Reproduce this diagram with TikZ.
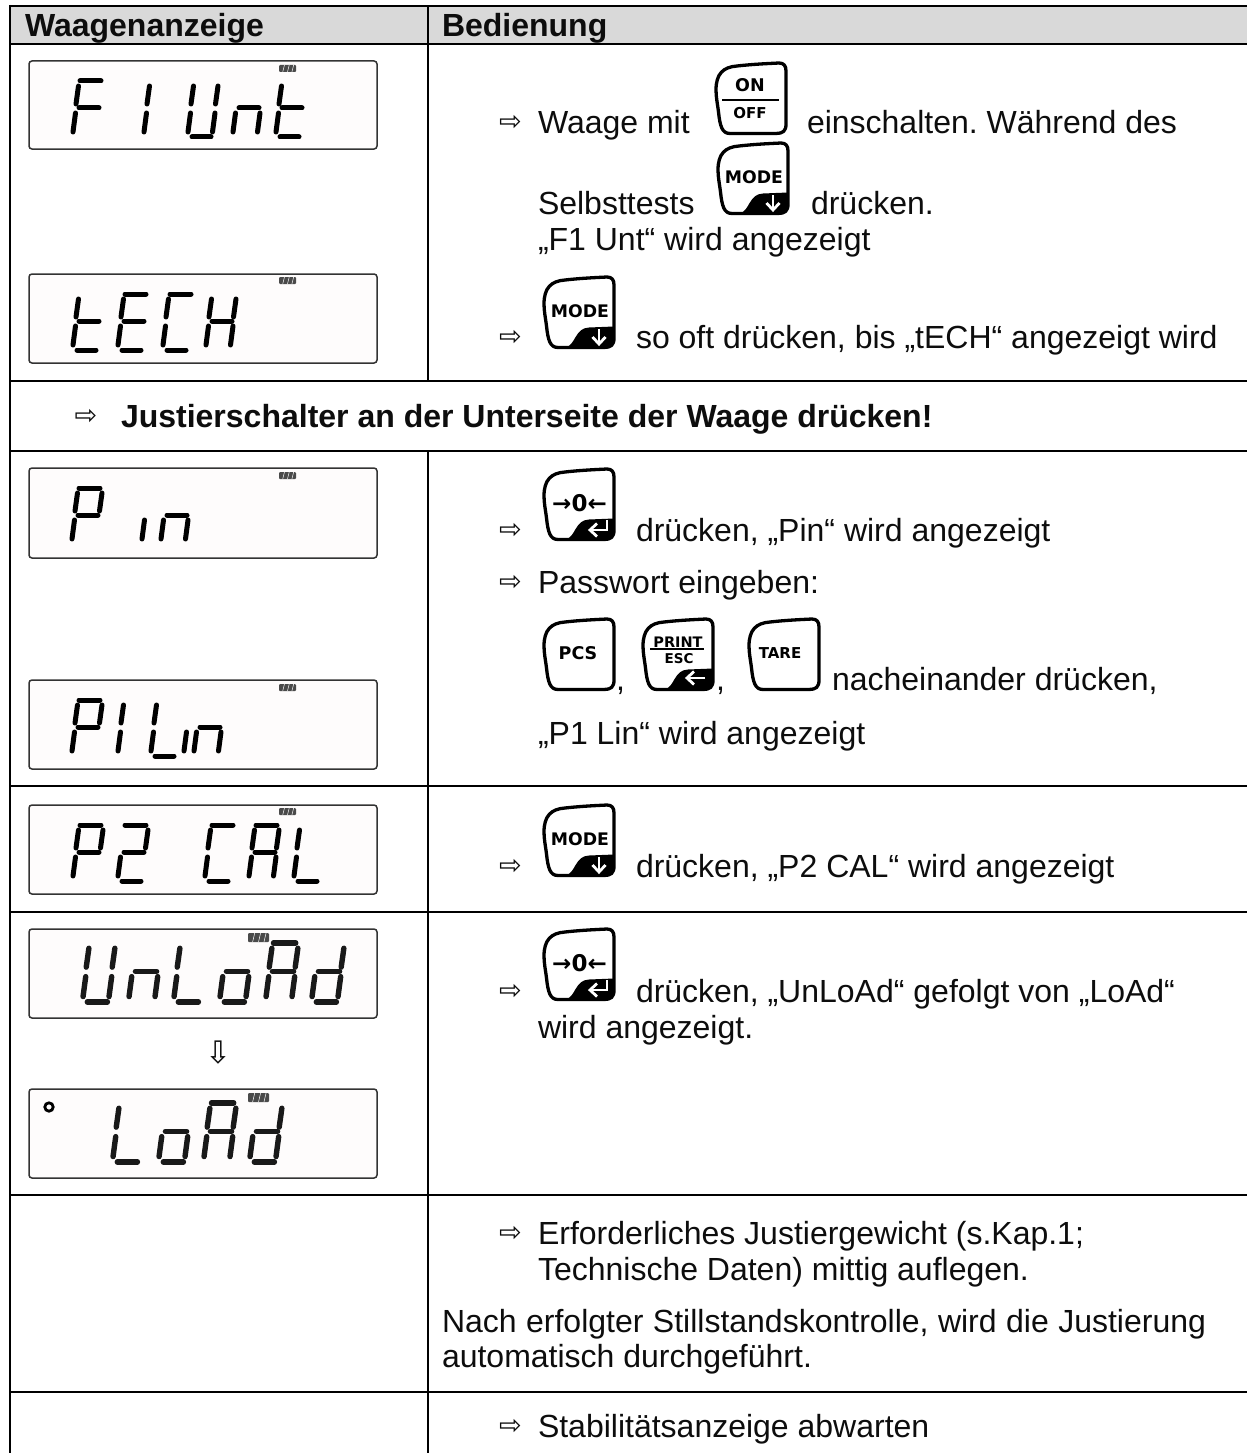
\documentclass[tikz,border=0pt]{standalone}
\usepackage{fontspec}
\setmainfont{Liberation Sans}
\newfontfamily\dejavu{DejaVu Sans}
\frenchspacing
\colorlet{ink}{black!95}
\definecolor{headfill}{HTML}{D9D9D9}
\definecolor{batt}{HTML}{4A4A4A}
\definecolor{lcdback}{HTML}{FEFCFC}
\tikzset{
  rule/.style={draw=black,line width=2pt},
  lcdbox/.style={draw=black!80,line width=1.5pt,fill=lcdback,rounded corners=3pt},
  lcdseg/.style={line width=5pt,line cap=round,draw=black},
  lcdsegb/.style={line width=5.4pt,line cap=round,draw=black!90},
  keyout/.style={draw=black,line width=3.3pt,fill=white,line join=round},
  keycut/.style={fill=black},
  keyarrow/.style={draw=white,line width=2.8pt,line join=miter},
  txt/.style={anchor=base west,inner sep=0pt,outer sep=0pt,yshift=-0.7pt,text=ink,font=\fontsize{32}{38}\selectfont},
  txtb/.style={txt,font=\fontsize{32}{38}\selectfont\bfseries},
  hint/.style={anchor=center,inner sep=0pt,outer sep=0pt,text=ink,font=\fontsize{27}{32}\selectfont\dejavu},
  hintdown/.style={hint,font=\fontsize{31}{36}\selectfont\dejavu},
  keylab/.style={anchor=center,inner sep=0pt,outer sep=0pt,text=black},
}
\def\segA{(8,20)--(29,20)}
\def\segB{(31,25)--(28.5,43)}
\def\segC{(28,52)--(25.5,71)}
\def\segD{(5,76)--(24,76)}
\def\segE{(3.5,52)--(1,71)}
\def\segF{(6.5,25)--(4,43)}
\def\segG{(7,47)--(27,47)}
\newcommand{\lcdd}[4][lcdseg]{\begin{scope}[shift={(#2,#3)}]\foreach \s in {#4}{\draw[#1] \csname seg\s\endcsname;}\end{scope}}
\newcommand{\lcdscaled}[3]{\begin{scope}[shift={(#1,#2)},xscale=1.06,yscale=1.05]\foreach \s in {#3}{\draw[lcdsegb] \csname seg\s\endcsname;}\end{scope}}
\newcommand{\lcdpanel}[2]{\draw[lcdbox] (29,#1) rectangle (377,#2);}
\newcommand{\lcdbat}[4]{%
  \fill[batt,rounded corners=1pt] (#1,#2) rectangle ++(#3,#4);
  \draw[white,line width=.5pt] (#1+#3*.22,#2+#4) -- ++(#3*.1,-#4);
  \draw[white,line width=.5pt] (#1+#3*.5,#2+#4) -- ++(#3*.1,-#4);
  \draw[white,line width=.5pt] (#1+#3*.76,#2+#4) -- ++(#3*.1,-#4);}
\def\keypath{(1,28) .. controls (1,12) and (8,5) .. (22,4) .. controls (40,2) and (55,1.5) .. (64,1) .. controls (69,1) and (71,4) .. (71,9) -- (71,62) .. controls (71,69) and (68,71.5) .. (61,71.5) -- (15,71.5) .. controls (7,71.5) and (5,64) .. (3.5,50) .. controls (2.5,42) and (1,35) .. (1,28) -- cycle}
\def\keycutpath{(23,71.5) .. controls (33,68) and (32,52) .. (46,51.5) -- (71,50.5) -- (71,62) .. controls (71,69) and (68,71.5) .. (61,71.5) -- cycle}
\newcommand{\keyplain}[2]{\begin{scope}[shift={(#1,#2)}]\draw[keyout] \keypath;\end{scope}}
\newcommand{\keycutted}[3]{\begin{scope}[shift={(#1,#2)}]\fill[keycut] \keycutpath;\draw[black,line width=3.3pt,line join=round] \keypath;#3\end{scope}}
\def\arrDown{\draw[keyarrow] (56,53)--(56,68);\draw[keyarrow] (49.5,61)--(56,68)--(62.5,61);}
\def\arrEnter{\draw[keyarrow] (64,52)--(64,62)--(48,62);\draw[keyarrow] (54,55.5)--(47,62)--(54,68.5);}
\def\arrBack{\draw[keyarrow] (63,60)--(45,60);\draw[keyarrow] (52,53.5)--(45,60)--(52,66.5);}
\newcommand{\modekey}[3]{\keycutted{#2}{#3}{\arrDown\node[keylab,font=\fontsize{17.3}{20}\selectfont\dejavu\bfseries] (#1) at (37,35) {MODE};}}
\newcommand{\zerokey}[3]{\keycutted{#2}{#3}{\arrEnter\node[keylab,font=\fontsize{23}{26}\selectfont\dejavu\bfseries] (#1) at (36.5,35) {→0←};}}
\newcommand{\arrowmark}[2]{\node[hint] at (#1,#2) {⇨};}
\begin{document}
\begin{tikzpicture}[x=1pt,y=-1pt]
\useasboundingbox (0,0) rectangle (1247,1453);
\fill[white] (0,0) rectangle (1247,1453);
% table
\fill[headfill] (10,6) rectangle (1247,44);
\draw[rule] (10,6) -- (1247,6);
\draw[rule] (10,44) -- (1247,44);
\draw[rule] (10,381) -- (1247,381);
\draw[rule] (10,451) -- (1247,451);
\draw[rule] (10,786) -- (1247,786);
\draw[rule] (10,912) -- (1247,912);
\draw[rule] (10,1195) -- (1247,1195);
\draw[rule] (10,1392) -- (1247,1392);
\draw[rule] (10,5) -- (10,1453);
\draw[rule] (428,6) -- (428,381);
\draw[rule] (428,451) -- (428,1453);
% header
\node[txtb] (h1) at (25,36) {Waagenanzeige};
\node[txtb] (h2) at (442,36) {Bedienung};
% displays
\lcdpanel{61}{149}\lcdbat{279}{65}{17}{7}
\lcdd{72}{61}{A,F,G,E}\lcdd{143}{61}{F,E}\lcdd{187}{61}{F,E,D,B,C}\lcdd{232}{61}{E,G,C}\lcdd{275}{61}{F,E,G,D}
\lcdpanel{274}{363}\lcdbat{279}{277}{17}{7}
\lcdd{72}{274}{F,E,G,D}\lcdd{117}{274}{A,F,G,E,D}\lcdd{162}{274}{A,F,E,D}\lcdd{205}{274}{F,E,B,C,G}
\lcdpanel{468}{558}\lcdbat{279}{472}{17}{7}
\lcdd{71}{468}{A,B,F,G,E}\lcdd{141}{468}{E}\lcdd{160}{468}{E,G,C}
\lcdpanel{680}{769}\lcdbat{279}{684}{17}{7}
\lcdd{71}{680}{A,B,F,G,E}\lcdd{117}{680}{F,E}\lcdd{150}{680}{F,E,D}\lcdd{183}{680}{E}\lcdd{193}{680}{E,G,C}
\lcdpanel{805}{894}\lcdbat{279}{808}{17}{7}
\lcdd{72}{805}{A,B,F,G,E}\lcdd{117}{805}{A,B,G,E,D}\lcdd{204}{805}{A,F,E,D}\lcdd{248}{805}{A,B,C,E,F,G}\lcdd{293}{805}{F,E,D}
\lcdpanel{929}{1018}\lcdbat{248}{933}{21}{9}
\lcdscaled{82}{922}{F,E,D,B,C}\lcdscaled{128}{922}{E,G,C}\lcdscaled{173}{922}{F,E,D}\lcdscaled{219}{922}{E,G,C,D}\lcdscaled{265}{922}{A,B,C,E,F,G}\lcdscaled{311}{922}{B,C,D,E,G}
\node[hintdown] (down) at (218.5,1053) {⇩};
\lcdpanel{1089}{1178}\lcdbat{248}{1093}{21}{9}
\draw[black,line width=2.8pt] (49,1107) circle (4.2);
\lcdscaled{112}{1082}{F,E,D}\lcdscaled{158}{1082}{E,G,C,D}\lcdscaled{203}{1082}{A,B,C,E,F,G}\lcdscaled{249}{1082}{B,C,D,E,G}
% row 1
\arrowmark{510.5}{123}
\node[txt] (a1) at (538,133) {Waage mit};
\keyplain{715}{62}
\begin{scope}[shift={(715,62)}]
\node[keylab,font=\fontsize{17.5}{20}\selectfont\dejavu\bfseries] (on) at (35,23) {ON};
\draw[black,line width=1.6pt] (7,38) -- (64,38);
\node[keylab,font=\fontsize{15}{18}\selectfont\dejavu\bfseries] (off) at (35,51) {OFF};
\end{scope}
\node[txt] (a2) at (807,133) {einschalten. Während des};
\node[txt] (a3) at (538,214) {Selbsttests};
\modekey{m1}{717}{142}
\node[txt] (a4) at (811,214) {drücken.};
\node[txt] (a5) at (538,250) {„F1 Unt“ wird angezeigt};
\arrowmark{510.5}{338}
\modekey{m2}{543}{276}
\node[txt] (a6) at (636,348) {so oft drücken, bis „tECH“ angezeigt wird};
% note
\arrowmark{86}{417}
\node[txtb] (n1) at (121,427) {Justierschalter an der Unterseite der Waage drücken!};
% row 3
\arrowmark{510.5}{531}
\zerokey{z1}{543}{468}
\node[txt] (b1) at (636,541) {drücken, „Pin“ wird angezeigt};
\arrowmark{510.5}{583}
\node[txt] (b2) at (538,593) {Passwort eingeben:};
\keyplain{543}{618}
\node[keylab,font=\fontsize{17.5}{20}\selectfont\dejavu\bfseries] (pcs) at (578,653) {PCS};
\node[txt] (c1) at (616,690) {,};
\keycutted{642}{618}{\arrBack
\node[keylab,font=\fontsize{14.5}{17}\selectfont\dejavu\bfseries] (pr) at (36,24) {PRINT};
\draw[black,line width=1.6pt] (8,31) -- (62,31);
\node[keylab,font=\fontsize{13.5}{16}\selectfont\dejavu\bfseries] (esc) at (37,41) {ESC};}
\node[txt] (c2) at (716,690) {,};
\keyplain{748}{618}
\node[keylab,font=\fontsize{15}{18}\selectfont\dejavu\bfseries] (tare) at (780,653) {TARE};
\node[txt] (b3) at (832,690) {nacheinander drücken,};
\node[txt] (b4) at (538,744) {„P1 Lin“ wird angezeigt};
% row 4
\arrowmark{510.5}{867}
\modekey{m3}{543}{804}
\node[txt] (d1) at (636,877) {drücken, „P2 CAL“ wird angezeigt};
% row 5
\arrowmark{510.5}{992}
\zerokey{z2}{543}{928}
\node[txt] (e1) at (636,1002) {drücken, „UnLoAd“ gefolgt von „LoAd“};
\node[txt] (e2) at (538,1038) {wird angezeigt.};
% row 6
\arrowmark{510.5}{1234}
\node[txt] (f1) at (538,1244) {Erforderliches Justiergewicht (s.Kap.1;};
\node[txt] (f2) at (538,1280) {Technische Daten) mittig auflegen.};
\node[txt] (f3) at (442,1332) {\makebox[764pt][s]{Nach erfolgter Stillstandskontrolle, wird die Justierung}};
\node[txt] (f4) at (442,1367) {automatisch durchgeführt.};
% row 7
\arrowmark{510.5}{1427}
\node[txt] (g1) at (538,1437) {Stabilitätsanzeige abwarten};
\end{tikzpicture}
\end{document}
